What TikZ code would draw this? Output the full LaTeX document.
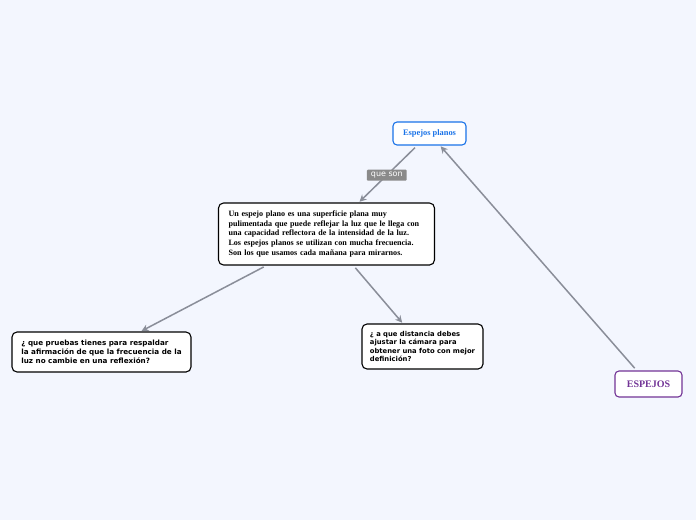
\documentclass[tikz,border=0pt]{standalone}
\usepackage{fontspec}
\setmainfont{Liberation Serif}
\newfontfamily\boxsans{DejaVu Sans}
\usetikzlibrary{arrows.meta}
\definecolor{bgc}{RGB}{243,246,254}
\definecolor{linec}{RGB}{138,142,153}
\definecolor{bluec}{RGB}{26,115,232}
\definecolor{purplec}{RGB}{114,52,150}
\definecolor{labelc}{RGB}{138,138,138}
\begin{document}
\begin{tikzpicture}[x=1pt,y=-1pt,
  topic/.style={draw, rounded corners=4pt, fill=white, line width=1.1pt, inner sep=0pt, align=center},
  textbox/.style={draw=black, rounded corners=5pt, fill=white, line width=1.1pt, inner xsep=10pt, inner ysep=0pt, align=left},
  conn/.style={draw=linec, line width=1.5pt, -{Stealth[length=7pt,width=7pt]}, shorten <=3pt, shorten >=1pt},
  lbl/.style={fill=labelc, text=white, font=\boxsans\fontsize{8}{9}\selectfont, inner xsep=4pt, inner ysep=2.5pt, rounded corners=1pt}
]
\useasboundingbox[fill=bgc] (0,0) rectangle (696,520);

\node[topic, draw=bluec, text=bluec, minimum width=73pt, minimum height=23pt, font=\bfseries\fontsize{8.4}{10}\selectfont] (ep) at (429.5,133.5) {Espejos planos};

\node[topic, draw=purplec, text=purplec, minimum width=67pt, minimum height=26pt, font=\bfseries\fontsize{10}{12}\selectfont] (esp) at (648.5,384) {ESPEJOS};

\node[textbox, text width=196pt, minimum height=62pt, font=\bfseries\fontsize{8.1}{9.7}\selectfont] (main) at (326.5,234) {Un espejo plano es una superficie plana muy\\pulimentada que puede reflejar la luz que le llega con\\una capacidad reflectora de la intensidad de la luz.\\Los espejos planos se utilizan con mucha frecuencia.\\Son los que usamos cada mañana para mirarnos.};

\node[textbox, inner xsep=3pt, minimum width=179pt, minimum height=40pt, font=\boxsans\bfseries\fontsize{7.2}{9}\selectfont] (left) at (101.5,352) {¿ que pruebas tienes para respaldar\\la afirmación de que la frecuencia de la\\luz no cambie en una reflexión?};

\node[textbox, inner xsep=3pt, minimum width=121pt, minimum height=45pt, font=\boxsans\bfseries\fontsize{6.8}{8.4}\selectfont] (right) at (422.5,346.5) {¿ a que distancia debes\\ajustar la cámara para\\obtener una foto con mejor\\definición?};

\draw[conn] (ep) -- node[lbl, pos=0.52] (qs) {que son} (main);
\draw[conn] (main) -- (left);
\draw[conn] (main) -- (right);
\draw[conn] (esp) -- (ep);
\end{tikzpicture}
\end{document}
